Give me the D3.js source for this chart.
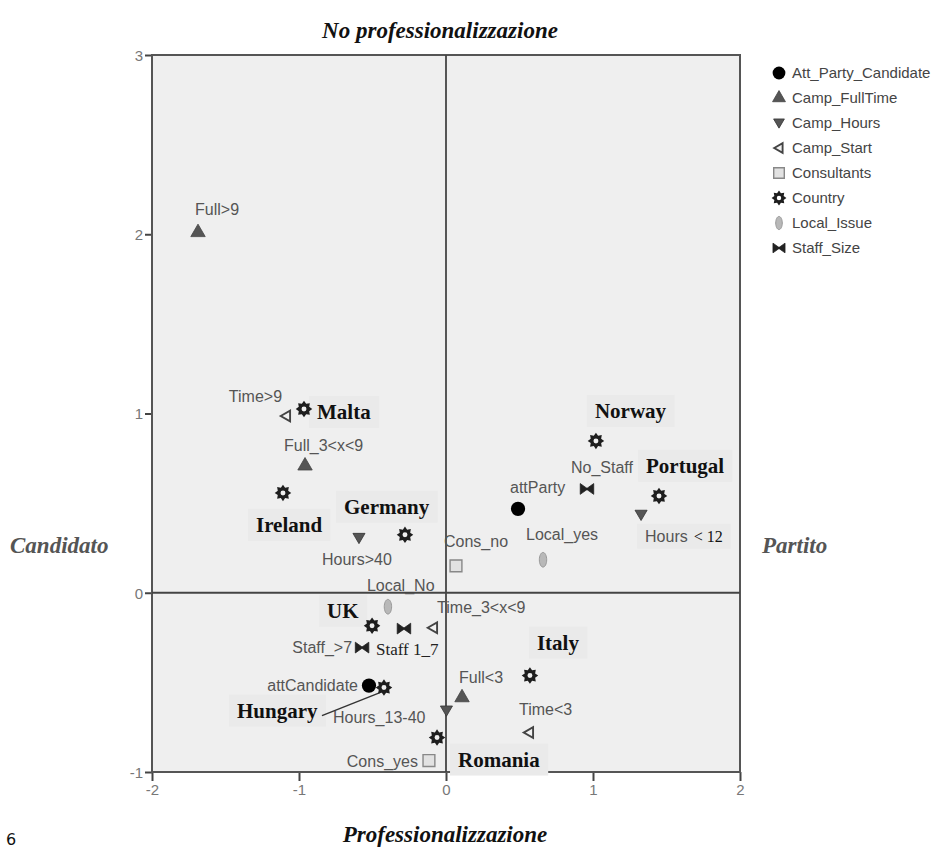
<!DOCTYPE html>
<html>
<head>
<meta charset="utf-8">
<script src="https://cdn.jsdelivr.net/npm/d3@7"></script>
<style>
  html, body { margin: 0; padding: 0; background: #fff; }
  svg { display: block; }
</style>
</head>
<body>
<svg id="chart" width="939" height="848"></svg>
<script>
// Legend categories (variable groups)
const categories = ["Att_Party_Candidate", "Camp_FullTime", "Camp_Hours", "Camp_Start",
                    "Consultants", "Country", "Local_Issue", "Staff_Size"];

// Category points: label, group, dimension 1, dimension 2
const pointLabels = ["attParty", "attCandidate",
  "Full>9", "Full_3<x<9", "Full<3",
  "Hours>40", "Hours_13-40", "Hours < 12",
  "Time>9", "Time_3<x<9", "Time<3",
  "Cons_no", "Cons_yes",
  "Malta", "Ireland", "Germany", "Norway", "Portugal", "UK", "Hungary", "Italy", "Romania",
  "Local_yes", "Local_No",
  "No_Staff", "Staff 1_7", "Staff_>7"];
const pointGroups = ["Att_Party_Candidate", "Att_Party_Candidate",
  "Camp_FullTime", "Camp_FullTime", "Camp_FullTime",
  "Camp_Hours", "Camp_Hours", "Camp_Hours",
  "Camp_Start", "Camp_Start", "Camp_Start",
  "Consultants", "Consultants",
  "Country", "Country", "Country", "Country", "Country", "Country", "Country", "Country", "Country",
  "Local_Issue", "Local_Issue",
  "Staff_Size", "Staff_Size", "Staff_Size"];
const dim1 = [0.49, -0.524,
  -1.687, -0.959, 0.109,
  -0.592, 0.003, 1.327,
  -1.088, -0.088, 0.565,
  0.068, -0.116,
  -0.966, -1.109, -0.279, 1.02, 1.449, -0.503, -0.422, 0.571, -0.061,
  0.66, -0.395,
  0.959, -0.286, -0.571];
const dim2 = [0.468, -0.518,
  2.01, 0.708, -0.585,
  0.306, -0.657, 0.435,
  0.986, -0.195, -0.78,
  0.15, -0.936,
  1.025, 0.557, 0.323, 0.847, 0.54, -0.184, -0.529, -0.462, -0.808,
  0.184, -0.078,
  0.579, -0.2, -0.306];

const xTicks = [-2, -1, 0, 1, 2];
const yTicks = [-1, 0, 1, 2, 3];

// Label placement relative to each point: [dx, dy, anchor]
const labelPlacement = {
  "attParty": [-8, -16, "start"],
  "attCandidate": [-11, 5, "end"],
  "Full>9": [-3, -17, "start"],
  "Full_3<x<9": [-21, -15, "start"],
  "Full<3": [-3, -15, "start"],
  "Hours>40": [-37, 27, "start"],
  "Hours_13-40": [-21, 12, "end"],
  "Hours < 12": [4, 27, "start"],
  "Time>9": [-4, -14, "end"],
  "Time_3<x<9": [4, -15, "start"],
  "Time<3": [-10, -18, "start"],
  "Cons_no": [-12, -19, "start"],
  "Cons_yes": [-11, 6, "end"],
  "Malta": [13, 10, "start"],
  "Ireland": [-27, 39, "start"],
  "Germany": [-61, -21, "start"],
  "Norway": [-1, -23, "start"],
  "Portugal": [-13, -23, "start"],
  "UK": [-45, -8, "start"],
  "Hungary": [-147, 30, "start"],
  "Italy": [7, -26, "start"],
  "Romania": [21, 29, "start"],
  "Local_yes": [-17, -20, "start"],
  "Local_No": [-21, -16, "start"],
  "No_Staff": [-16, -16, "start"],
  "Staff 1_7": [-28, 26, "start"],
  "Staff_>7": [-10, 5, "end"]
};

const svg = d3.select("#chart");
const plotLeft = 152, plotRight = 740, plotTop = 55, plotBottom = 772;
const x = d3.scaleLinear().domain([-2, 2]).range([plotLeft, plotRight]);
const y = d3.scaleLinear().domain([-1, 3]).range([plotBottom, plotTop]);

const SANS = "'Liberation Sans', Arial, sans-serif";
const SERIF = "'Liberation Serif', 'Times New Roman', serif";

// Custom symbol: cog-like star with a hole (Country)
const cogSymbol = {
  draw(ctx, size) {
    const R = Math.sqrt(size) * 0.6, r = R * 0.68, h = R * 0.3, n = 8;
    for (let i = 0; i < n * 2; i++) {
      const a = (i * Math.PI) / n - Math.PI / 2;
      const rad = i % 2 === 0 ? R : r;
      const px = rad * Math.cos(a), py = rad * Math.sin(a);
      if (i === 0) ctx.moveTo(px, py); else ctx.lineTo(px, py);
    }
    ctx.closePath();
    ctx.moveTo(h, 0);
    ctx.arc(0, 0, h, 0, 2 * Math.PI, true);
    ctx.closePath();
  }
};
// Custom symbol: bow-tie (Staff_Size)
const bowtieSymbol = {
  draw(ctx, size) {
    const w = Math.sqrt(size) * 0.55, hh = w * 0.8;
    ctx.moveTo(-w, -hh); ctx.lineTo(-w * 0.1, -hh * 0.2); ctx.lineTo(w * 0.1, -hh * 0.2);
    ctx.lineTo(w, -hh); ctx.lineTo(w, hh); ctx.lineTo(w * 0.1, hh * 0.2);
    ctx.lineTo(-w * 0.1, hh * 0.2); ctx.lineTo(-w, hh); ctx.closePath();
  }
};
// Custom symbol: triangle pointing down (Camp_Hours)
const triDown = {
  draw(ctx, size) {
    const s = Math.sqrt(size) * 0.62;
    ctx.moveTo(-s, -s * 0.75); ctx.lineTo(s, -s * 0.75); ctx.lineTo(0, s * 0.95); ctx.closePath();
  }
};
// Custom symbol: triangle pointing left (Camp_Start)
const triLeft = {
  draw(ctx, size) {
    const s = Math.sqrt(size) * 0.55;
    ctx.moveTo(-s, 0); ctx.lineTo(s * 0.75, -s); ctx.lineTo(s * 0.75, s); ctx.closePath();
  }
};
// Custom symbol: vertical ellipse (Local_Issue)
const ellipseSymbol = {
  draw(ctx, size) {
    const rx = Math.sqrt(size) * 0.3, ry = rx * 2;
    const k = 0.5523;
    ctx.moveTo(0, -ry);
    ctx.bezierCurveTo(rx * k, -ry, rx, -ry * k, rx, 0);
    ctx.bezierCurveTo(rx, ry * k, rx * k, ry, 0, ry);
    ctx.bezierCurveTo(-rx * k, ry, -rx, ry * k, -rx, 0);
    ctx.bezierCurveTo(-rx, -ry * k, -rx * k, -ry, 0, -ry);
    ctx.closePath();
  }
};

const groupStyle = {
  "Att_Party_Candidate": { type: d3.symbolCircle, size: 160, fill: "#000", stroke: "none", sw: 0 },
  "Camp_FullTime": { type: d3.symbolTriangle, size: 90, fill: "#555", stroke: "#444", sw: 0.8 },
  "Camp_Hours": { type: triDown, size: 95, fill: "#555", stroke: "#333", sw: 0.8 },
  "Camp_Start": { type: triLeft, size: 95, fill: "#f2f2f2", stroke: "#444", sw: 1.9 },
  "Consultants": { type: d3.symbolSquare, size: 140, fill: "#e2e2e2", stroke: "#888", sw: 1.4 },
  "Country": { type: cogSymbol, size: 190, fill: "#1e1e1e", stroke: "none", sw: 0 },
  "Local_Issue": { type: ellipseSymbol, size: 150, fill: "#b8b8b8", stroke: "#999", sw: 1 },
  "Staff_Size": { type: bowtieSymbol, size: 150, fill: "#222", stroke: "#222", sw: 0.8 }
};

// Plot background
svg.append("rect")
  .attr("x", plotLeft).attr("y", plotTop)
  .attr("width", plotRight - plotLeft).attr("height", plotBottom - plotTop)
  .attr("fill", "#efefef");

// Axes
const xAxis = d3.axisBottom(x).tickValues(xTicks).tickSize(9).tickPadding(3).tickFormat(d => String(d));
const yAxis = d3.axisLeft(y).tickValues(yTicks).tickSize(7).tickPadding(2).tickFormat(d => String(d));

const gx = svg.append("g").attr("transform", `translate(0,${plotBottom})`).call(xAxis);
const gy = svg.append("g").attr("transform", `translate(${plotLeft},0)`).call(yAxis);
[gx, gy].forEach(g => {
  g.select(".domain").remove();
  g.selectAll(".tick line").attr("stroke", "#444").attr("stroke-width", 2);
  g.selectAll(".tick text").attr("fill", "#777").style("font-family", SANS).style("font-size", "15px");
});
gy.selectAll(".tick text").attr("dy", "0.35em");

// Frame
svg.append("rect")
  .attr("x", plotLeft).attr("y", plotTop)
  .attr("width", plotRight - plotLeft).attr("height", plotBottom - plotTop)
  .attr("fill", "none").attr("stroke", "#555").attr("stroke-width", 2);

// Reference lines through the origin
svg.append("line")
  .attr("x1", x(0)).attr("x2", x(0)).attr("y1", plotTop).attr("y2", plotBottom)
  .attr("stroke", "#444").attr("stroke-width", 1.8);
svg.append("line")
  .attr("x1", plotLeft).attr("x2", plotRight).attr("y1", y(0)).attr("y2", y(0))
  .attr("stroke", "#444").attr("stroke-width", 1.8);

const points = pointLabels.map((label, i) => ({
  label, group: pointGroups[i], d1: dim1[i], d2: dim2[i]
}));

const labelLayer = svg.append("g");
const markLayer = svg.append("g");

// Point labels, with soft backdrops behind the country names
points.forEach(p => {
  const [dx, dy, anchor] = labelPlacement[p.label];
  const px = x(p.d1), py = y(p.d2);
  const isCountry = p.group === "Country";
  const t = labelLayer.append("text")
    .attr("x", px + dx).attr("y", py + dy)
    .attr("text-anchor", anchor);
  if (isCountry) {
    t.text(p.label).attr("fill", "#111")
      .style("font-family", SERIF).style("font-weight", "bold").style("font-size", "21px");
  } else if (p.label === "Staff 1_7") {
    t.text(p.label).attr("fill", "#222")
      .style("font-family", SERIF).style("font-size", "17px");
  } else if (p.label === "Hours < 12") {
    t.style("font-family", SANS).style("font-size", "16px").attr("fill", "#555");
    t.append("tspan").text("Hours");
    t.append("tspan").text("< 12").attr("dx", 6).attr("fill", "#111")
      .style("font-family", SERIF).style("font-size", "16px");
  } else {
    t.text(p.label).attr("fill", "#555")
      .style("font-family", SANS).style("font-size", "16px");
  }
  if (isCountry || p.label === "Hours < 12") {
    const bb = t.node().getBBox();
    labelLayer.insert("rect", "text")
      .attr("x", bb.x - 8).attr("y", bb.y - 4)
      .attr("width", bb.width + 16).attr("height", bb.height + 8)
      .attr("fill", "#eaeaea");
  }
  if (p.label === "Hungary") {
    labelLayer.append("line")
      .attr("x1", px - 62).attr("y1", py + 28)
      .attr("x2", px - 4).attr("y2", py + 5)
      .attr("stroke", "#333").attr("stroke-width", 1.4);
  }
});

// Point markers
markLayer.selectAll("path")
  .data(points)
  .join("path")
  .attr("transform", d => `translate(${x(d.d1)},${y(d.d2)})`)
  .attr("d", d => d3.symbol().type(groupStyle[d.group].type).size(groupStyle[d.group].size)())
  .attr("fill", d => groupStyle[d.group].fill)
  .attr("fill-rule", "evenodd")
  .attr("stroke", d => groupStyle[d.group].stroke)
  .attr("stroke-width", d => groupStyle[d.group].sw);

// Legend
const legend = svg.append("g").attr("transform", "translate(779,73)");
const rows = legend.selectAll("g").data(categories).join("g")
  .attr("transform", (d, i) => `translate(0,${i * 25})`);
rows.append("path")
  .attr("d", d => d3.symbol().type(groupStyle[d].type).size(groupStyle[d].size * 0.8)())
  .attr("fill", d => groupStyle[d].fill)
  .attr("fill-rule", "evenodd")
  .attr("stroke", d => groupStyle[d].stroke)
  .attr("stroke-width", d => groupStyle[d].sw);
rows.append("text")
  .attr("x", 13).attr("dy", "0.35em")
  .attr("fill", "#444")
  .style("font-family", SANS).style("font-size", "15px")
  .text(d => d);

// Axis titles
const titleStyle = t => t.style("font-family", SERIF).style("font-weight", "bold")
  .style("font-style", "italic").style("font-size", "23px");
svg.append("text").attr("x", 440).attr("y", 38).attr("text-anchor", "middle")
  .attr("fill", "#111").text("No professionalizzazione").call(titleStyle);
svg.append("text").attr("x", 445).attr("y", 842).attr("text-anchor", "middle")
  .attr("fill", "#111").text("Professionalizzazione").call(titleStyle);
svg.append("text").attr("x", 10).attr("y", 553).attr("text-anchor", "start")
  .attr("fill", "#555").text("Candidato").call(titleStyle);
svg.append("text").attr("x", 762).attr("y", 553).attr("text-anchor", "start")
  .attr("fill", "#555").text("Partito").call(titleStyle);

// Page number
svg.append("text").attr("x", 6).attr("y", 845)
  .attr("fill", "#111").style("font-family", "'DejaVu Sans', sans-serif").style("font-size", "16px")
  .text("6");
</script>
</body>
</html>
